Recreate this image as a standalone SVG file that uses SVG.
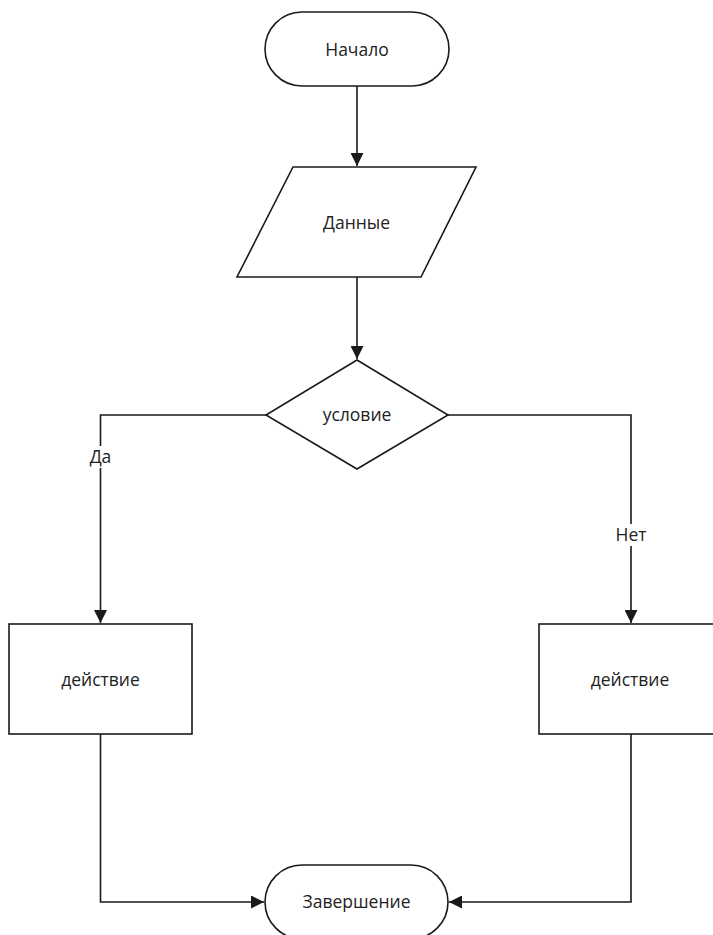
<svg xmlns="http://www.w3.org/2000/svg" width="713" height="935" viewBox="0 0 713 935">
<style>
.shape{fill:#fff;stroke:#1a1a1a;stroke-width:1.6}
.conn{fill:none;stroke:#1a1a1a;stroke-width:1.6}
.t{font-family:"Open Sans","Noto Sans",sans-serif;font-size:17.5px;fill:#222;text-anchor:middle}
.lbl{fill:#fff;stroke:none}
</style>
<defs>
<marker id="arr" markerUnits="userSpaceOnUse" markerWidth="14" markerHeight="13" refX="13" refY="6.5" orient="auto">
<path d="M0,0 L13,6.5 L0,13 z" fill="#1a1a1a"/>
</marker>
</defs>
<g id="connectors">
<path class="conn" d="M357,86 V166" marker-end="url(#arr)"/>
<path class="conn" d="M357,277 V359" marker-end="url(#arr)"/>
<path class="conn" d="M266,415 H100.5 V623" marker-end="url(#arr)"/>
<path class="conn" d="M448,415 H631 V623" marker-end="url(#arr)"/>
<path class="conn" d="M100.5,734 V902 H264" marker-end="url(#arr)"/>
<path class="conn" d="M631,734 V902 H449" marker-end="url(#arr)"/>
<g id="label-yes"><rect class="lbl" x="88" y="446" width="25" height="22"/><text class="t" x="100.5" y="463">Да</text></g>
<g id="label-no"><rect class="lbl" x="613" y="524" width="36" height="22"/><text class="t" x="631" y="541">Нет</text></g>
</g>
<g id="start"><rect class="shape" x="265" y="12" width="184" height="74" rx="37"/><text class="t" x="357" y="56">Начало</text></g>
<g id="data"><polygon class="shape" points="293,167 476,167 421,277 237,277"/><text class="t" x="356.5" y="229">Данные</text></g>
<g id="condition"><polygon class="shape" points="357,360 448,415 357,469 266,415"/><text class="t" x="357" y="421">условие</text></g>
<g id="action-yes"><rect class="shape" x="9" y="624" width="183" height="110"/><text class="t" x="100.5" y="686">действие</text></g>
<g id="action-no"><rect class="shape" x="539" y="624" width="183" height="110"/><text class="t" x="630" y="686">действие</text></g>
<g id="end"><rect class="shape" x="265" y="865" width="183" height="74" rx="37"/><text class="t" x="356.5" y="908">Завершение</text></g>
</svg>
